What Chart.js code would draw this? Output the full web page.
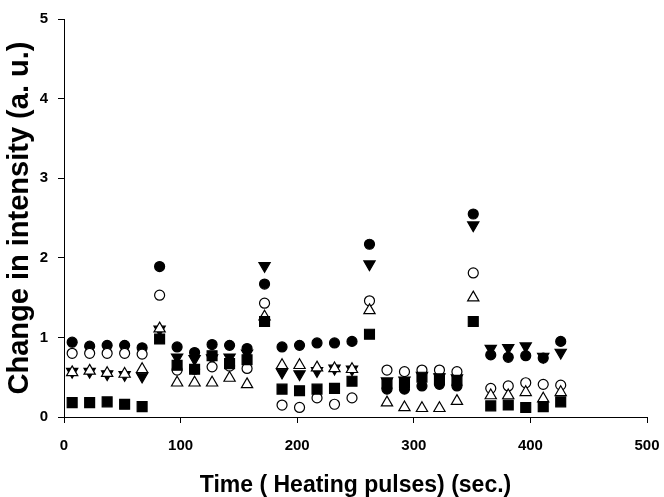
<!DOCTYPE html>
<html>
<head>
<meta charset="utf-8">
<title>Change in intensity vs heating pulses</title>
<script src="https://cdn.jsdelivr.net/npm/chart.js@4"></script>
<style>
    html, body { margin: 0; padding: 0; background: #ffffff; }
    #wrap { width: 664px; height: 497px; }
</style>
</head>
<body>
<div id="wrap"><canvas id="intensity-chart" width="664" height="497"></canvas></div>
<script>
// Data
const timeSec = [7, 22, 37, 52, 67, 82, 97, 112, 127, 142, 157, 172, 187, 202, 217, 232, 247, 262,
    277, 292, 307, 322, 337, 351, 366, 381, 396, 411, 426];

const filledCircle = [0.94, 0.89, 0.90, 0.90, 0.87, 1.89, 0.88, 0.81, 0.91, 0.90, 0.86, 1.67,
    0.88, 0.90, 0.93, 0.93, 0.95, 2.17, 0.35, 0.35, 0.39, 0.41, 0.39, 2.55,
    0.78, 0.75, 0.77, 0.74, 0.95];
const openCircle = [0.80, 0.80, 0.80, 0.80, 0.79, 1.53, 0.59, 0.60, 0.63, 0.64, 0.61, 1.43,
    0.15, 0.12, 0.24, 0.16, 0.24, 1.46, 0.59, 0.57, 0.59, 0.59, 0.57, 1.81,
    0.36, 0.39, 0.43, 0.41, 0.40];
const filledTriangleDown = [0.57, 0.57, 0.54, 0.53, 0.51, 1.10, 0.75, 0.73, 0.74, 0.75, 0.80, 1.90,
    0.56, 0.54, 0.58, 0.61, 0.60, 1.92, 0.45, 0.46, 0.52, 0.50, 0.49, 2.41,
    0.86, 0.87, 0.89, 0.76, 0.81];
const openTriangleUp = [0.56, 0.58, 0.55, 0.54, 0.60, 1.11, 0.43, 0.43, 0.43, 0.49, 0.41, 1.26,
    0.65, 0.65, 0.62, 0.61, 0.60, 1.34, 0.18, 0.12, 0.11, 0.11, 0.20, 1.50,
    0.27, 0.27, 0.31, 0.23, 0.31];
const filledSquare = [0.18, 0.18, 0.19, 0.16, 0.13, 0.98, 0.65, 0.60, 0.77, 0.67, 0.72, 1.20,
    0.35, 0.33, 0.35, 0.36, 0.45, 1.04, 0.42, 0.43, 0.50, 0.48, 0.46, 1.20,
    0.14, 0.15, 0.12, 0.13, 0.19];

const xTicks = [0, 100, 200, 300, 400, 500];
const yTicks = [0, 1, 2, 3, 4, 5];

/**
 * Pair the time axis with one series
 */
function toPoints(values) {
    return values.map((v, i) => ({ x: timeSec[i], y: v }));
}

/**
 * Build one scatter dataset (lower order = drawn on top)
 */
function makeSeries(label, values, style, fill, radius, rotation, order) {
    return {
        label: label,
        data: toPoints(values),
        pointStyle: style,
        pointRadius: radius,
        pointHoverRadius: radius,
        pointRotation: rotation,
        backgroundColor: fill,
        borderColor: '#000000',
        pointBorderWidth: 1.2,
        order: order,
    };
}

function createChart() {
    const ctx = document.getElementById('intensity-chart');
    const axisFont = { family: 'Liberation Sans, Arial, sans-serif', weight: 'bold' };

    new Chart(ctx, {
        type: 'scatter',
        data: {
            datasets: [
                makeSeries('Filled circle', filledCircle, 'circle', '#000000', 5, 0, 5),
                makeSeries('Filled triangle', filledTriangleDown, 'triangle', '#000000', 6.5, 180, 4),
                makeSeries('Open circle', openCircle, 'circle', '#ffffff', 5, 0, 3),
                makeSeries('Open triangle', openTriangleUp, 'triangle', '#ffffff', 6.5, 0, 2),
                makeSeries('Filled square', filledSquare, 'rect', '#000000', 7, 0, 1),
            ]
        },
        options: {
            responsive: false,
            devicePixelRatio: 1,
            animation: false,
            layout: {
                padding: { top: 10, right: 17, left: 0, bottom: 0 }
            },
            plugins: {
                legend: { display: false },
                tooltip: { enabled: false }
            },
            scales: {
                x: {
                    type: 'linear',
                    min: 0,
                    max: 500,
                    afterBuildTicks: scale => { scale.ticks = xTicks.map(v => ({ value: v })); },
                    afterFit: scale => {
                        // keep the plot edge where the original has it
                        scale.height = 80;
                        scale.paddingLeft = 0;
                        scale.paddingRight = 0;
                    },
                    border: { display: true, color: '#000000', width: 1 },
                    grid: { drawOnChartArea: false, drawTicks: true, tickLength: 6, tickColor: '#000000' },
                    ticks: {
                        color: '#000000',
                        padding: 14,
                        maxRotation: 0,
                        font: { ...axisFont, size: 15 }
                    },
                    title: {
                        display: true,
                        text: 'Time ( Heating pulses) (sec.)',
                        color: '#000000',
                        padding: { top: 0, bottom: 0 },
                        font: { ...axisFont, size: 23, lineHeight: 1 }
                    }
                },
                y: {
                    type: 'linear',
                    min: 0,
                    max: 5,
                    afterBuildTicks: scale => { scale.ticks = yTicks.map(v => ({ value: v })); },
                    afterFit: scale => { scale.width = 64; },
                    border: { display: true, color: '#000000', width: 1 },
                    grid: { drawOnChartArea: false, drawTicks: true, tickLength: 6, tickColor: '#000000' },
                    ticks: {
                        color: '#000000',
                        padding: 10,
                        font: { ...axisFont, size: 15 }
                    },
                    title: {
                        display: true,
                        text: 'Change in intensity (a. u.)',
                        color: '#000000',
                        padding: { top: 5, bottom: 0 },
                        font: { ...axisFont, size: 29, lineHeight: 1 }
                    }
                }
            }
        }
    });
}

document.addEventListener('DOMContentLoaded', createChart);
</script>
</body>
</html>
